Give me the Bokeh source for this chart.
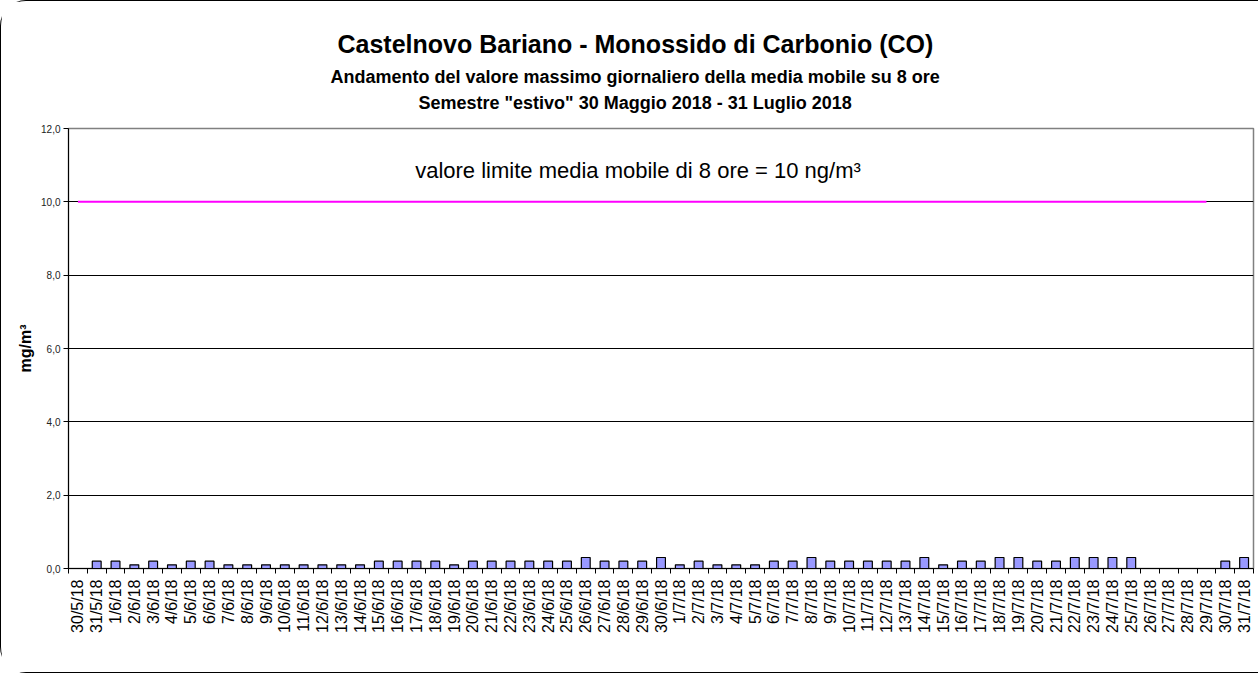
import math
from bokeh.plotting import figure
from bokeh.models import FixedTicker, Label, Range1d, CustomJSTickFormatter, Title
from bokeh.embed import file_html
from bokeh.resources import INLINE

NAN = float("nan")

# ---------------- data ----------------
dates = [
    "30/5/18", "31/5/18",
    "1/6/18", "2/6/18", "3/6/18", "4/6/18", "5/6/18", "6/6/18", "7/6/18", "8/6/18", "9/6/18", "10/6/18",
    "11/6/18", "12/6/18", "13/6/18", "14/6/18", "15/6/18", "16/6/18", "17/6/18", "18/6/18", "19/6/18", "20/6/18",
    "21/6/18", "22/6/18", "23/6/18", "24/6/18", "25/6/18", "26/6/18", "27/6/18", "28/6/18", "29/6/18", "30/6/18",
    "1/7/18", "2/7/18", "3/7/18", "4/7/18", "5/7/18", "6/7/18", "7/7/18", "8/7/18", "9/7/18", "10/7/18",
    "11/7/18", "12/7/18", "13/7/18", "14/7/18", "15/7/18", "16/7/18", "17/7/18", "18/7/18", "19/7/18", "20/7/18",
    "21/7/18", "22/7/18", "23/7/18", "24/7/18", "25/7/18", "26/7/18", "27/7/18", "28/7/18", "29/7/18", "30/7/18",
    "31/7/18",
]

co_max = [
    NAN, 0.2,
    0.2, 0.1, 0.2, 0.1, 0.2, 0.2, 0.1, 0.1, 0.1, 0.1,
    0.1, 0.1, 0.1, 0.1, 0.2, 0.2, 0.2, 0.2, 0.1, 0.2,
    0.2, 0.2, 0.2, 0.2, 0.2, 0.3, 0.2, 0.2, 0.2, 0.3,
    0.1, 0.2, 0.1, 0.1, 0.1, 0.2, 0.2, 0.3, 0.2, 0.2,
    0.2, 0.2, 0.2, 0.3, 0.1, 0.2, 0.2, 0.3, 0.3, 0.2,
    0.2, 0.3, 0.3, 0.3, 0.3, NAN, NAN, NAN, NAN, 0.2,
    0.3,
]

limit_value = 10.0
limit_first = "30/5/18"
limit_last = "29/7/18"

y_ticks = [0, 2, 4, 6, 8, 10, 12]
y_tick_labels = ["0,0", "2,0", "4,0", "6,0", "8,0", "10,0", "12,0"]

title = "Castelnovo Bariano - Monossido di Carbonio (CO)"
subtitle1 = "Andamento del valore massimo giornaliero della media mobile su 8 ore"
subtitle2 = "Semestre \"estivo\" 30 Maggio 2018 - 31 Luglio 2018"
limit_text = "valore limite media mobile di 8 ore = 10 ng/m\u00b3"
y_label = "mg/m\u00b3"

FONT = "Liberation Sans"

# ---------------- figure ----------------
n = len(dates)
centers = [i + 0.5 for i in range(n)]
bounds = list(range(n + 1))

p = figure(
    width=1258, height=673,
    x_range=Range1d(0, n), y_range=Range1d(0, 12),
    output_backend="svg", toolbar_location=None,
    min_border_left=67, min_border_right=6, min_border_top=127, min_border_bottom=106,
)
p.title.visible = False
p.background_fill_color = "white"
p.border_fill_color = "white"
p.outline_line_color = "#808080"
p.outline_line_width = 1.5
p.styles = {
    "border-top": "1px solid black",
    "border-left": "1px solid black",
    "border-bottom": "1px solid black",
    "border-top-left-radius": "26px",
    "border-bottom-left-radius": "26px",
}

# bars
p.vbar(x=centers, top=co_max, width=0.47, bottom=0,
       fill_color="#9999FF", line_color="black", line_width=1.2)

# limit line
i0 = dates.index(limit_first)
i1 = dates.index(limit_last)
lx = centers[i0:i1 + 1]
p.line(x=lx, y=[limit_value] * len(lx), line_color="#FF00FF", line_width=2)

# x axis
xa = p.xaxis[0]
xa.ticker = FixedTicker(ticks=centers, minor_ticks=bounds)
xa.formatter = CustomJSTickFormatter(args=dict(labels=dates),
                                     code="const i = Math.floor(tick); return labels[i] || '';")
xa.major_label_orientation = math.pi / 2
xa.major_tick_in = 0
xa.major_tick_out = 0
xa.minor_tick_in = 0
xa.minor_tick_out = 5
xa.minor_tick_line_color = "black"
xa.axis_line_color = "black"
xa.major_label_text_font = FONT
xa.major_label_text_font_size = "16px"
xa.major_label_text_color = "black"
xa.major_label_standoff = 6

# y axis
ya = p.yaxis[0]
ya.ticker = FixedTicker(ticks=y_ticks)
ya.formatter = CustomJSTickFormatter(args=dict(vals=y_ticks, labels=y_tick_labels),
                                     code="const i = vals.indexOf(tick); return i >= 0 ? labels[i] : '';")
ya.major_tick_in = 0
ya.major_tick_out = 5
ya.minor_tick_out = 0
ya.minor_tick_in = 0
ya.axis_line_color = "black"
ya.major_label_text_font = FONT
ya.major_label_text_font_size = "10px"
ya.major_label_text_color = "#222222"
ya.major_label_standoff = 3
ya.axis_label = y_label
ya.axis_label_text_font = FONT
ya.axis_label_text_font_size = "16px"
ya.axis_label_text_font_style = "bold"
ya.axis_label_text_color = "black"
ya.axis_label_standoff = 4

# grid
p.xgrid.visible = False
p.ygrid.ticker = FixedTicker(ticks=y_ticks[1:-1])
p.ygrid.grid_line_color = "black"
p.ygrid.grid_line_width = 1

# titles (first added = closest to the plot frame)
for txt, size, off, stand in [
    (subtitle2, "18px", 350, 31),
    (subtitle1, "18px", 262, -23),
    (title, "25px", 269, 35),
]:
    p.add_layout(Title(text=txt, align="left", offset=off, standoff=stand,
                       text_font=FONT, text_font_size=size, text_font_style="bold",
                       text_color="black"), "above")

xc = n / 2
p.add_layout(Label(x=xc, y=12, x_offset=-23, y_offset=-42, text=limit_text,
                   text_align="center", text_baseline="middle",
                   text_font=FONT, text_font_size="22px", text_color="black"))

open("out.html", "w").write(file_html(p, INLINE))
